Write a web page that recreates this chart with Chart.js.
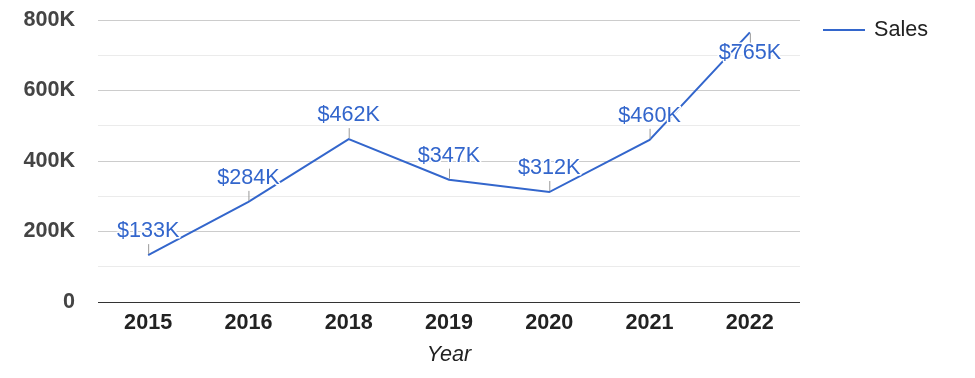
<!DOCTYPE html>
<html>
<head>
<meta charset="utf-8">
<script src="https://cdn.jsdelivr.net/npm/chart.js@4"></script>
<style>
  body { margin: 0; background: #fff; }
  canvas { display: block; }
</style>
</head>
<body>
<canvas id="salesChart" width="975" height="378"></canvas>
<script>
// donnees
const years = ['2015', '2016', '2018', '2019', '2020', '2021', '2022'];
const sales = [133000, 284000, 462000, 347000, 312000, 460000, 765000];
const seriesName = 'Sales';
const axisTitle = 'Year';

const FONT = '"Liberation Sans", Arial, sans-serif';
const BLUE = '#3366cc';

function fmtK(v) {
    return v === 0 ? '0' : (v / 1000) + 'K';
}

// etiquettes de valeur au-dessus des points (avec halo blanc)
const valueLabels = {
    id: 'valueLabels',
    afterDatasetsDraw(chart) {
        const ctx = chart.ctx;
        const meta = chart.getDatasetMeta(0);
        ctx.save();
        ctx.font = '21.6px ' + FONT;
        ctx.textAlign = 'center';
        ctx.textBaseline = 'middle';
        meta.data.forEach((pt, i) => {
            const x = pt.x, y = pt.y;
            const below = (y - 34) < 0;
            // petit trait gris
            ctx.strokeStyle = '#999';
            ctx.lineWidth = 1;
            ctx.beginPath();
            if (below) {
                ctx.moveTo(x + 0.5, y + 1);
                ctx.lineTo(x + 0.5, y + 11);
            } else {
                ctx.moveTo(x + 0.5, y - 1);
                ctx.lineTo(x + 0.5, y - 11);
            }
            ctx.stroke();
            const ty = below ? y + 21 : y - 24;
            const txt = '$' + Math.round(sales[i] / 1000) + 'K';
            ctx.strokeStyle = '#fff';
            ctx.lineWidth = 3;
            ctx.lineJoin = 'round';
            ctx.strokeText(txt, x, ty);
            ctx.fillStyle = BLUE;
            ctx.fillText(txt, x, ty);
        });
        ctx.restore();
    }
};

// legende a droite
const sideLegend = {
    id: 'sideLegend',
    afterDraw(chart) {
        const ctx = chart.ctx;
        ctx.save();
        ctx.strokeStyle = BLUE;
        ctx.lineWidth = 2;
        ctx.beginPath();
        ctx.moveTo(823, 30);
        ctx.lineTo(865, 30);
        ctx.stroke();
        ctx.fillStyle = '#222';
        ctx.font = '21.6px ' + FONT;
        ctx.textAlign = 'left';
        ctx.textBaseline = 'middle';
        ctx.fillText(seriesName, 874, 30);
        ctx.restore();
    }
};

const ctx = document.getElementById('salesChart').getContext('2d');
new Chart(ctx, {
    type: 'line',
    data: {
        labels: years,
        datasets: [{
            label: seriesName,
            data: sales,
            borderColor: BLUE,
            backgroundColor: BLUE,
            borderWidth: 2,
            pointRadius: 0,
            fill: false,
            tension: 0
        }]
    },
    options: {
        responsive: false,
        animation: false,
        layout: { padding: { top: 20, right: 175, left: 0, bottom: 0 } },
        plugins: {
            legend: { display: false },
            tooltip: { enabled: false }
        },
        scales: {
            x: {
                offset: true,
                grid: { display: false, drawTicks: false },
                border: { display: false },
                ticks: {
                    color: '#222',
                    padding: 8,
                    font: { family: FONT, size: 21.6, weight: 'bold' }
                },
                title: {
                    display: true,
                    text: axisTitle,
                    color: '#222',
                    padding: { top: 4, bottom: 10 },
                    font: { family: FONT, size: 21.6, style: 'italic' }
                },
                afterFit(scale) {
                    scale.height = 76;
                    scale.paddingLeft = 0;
                    scale.paddingRight = 0;
                }
            },
            y: {
                min: 0,
                max: 800000,
                grid: {
                    drawTicks: false,
                    color: c => c.tick.value === 0 ? '#333' : (c.tick.value % 200000 === 0 ? '#cccccc' : '#ebebeb')
                },
                border: { display: false },
                ticks: {
                    stepSize: 100000,
                    padding: 23,
                    color: '#444',
                    font: { family: FONT, size: 21.6, weight: 'bold' },
                    callback: v => v % 200000 === 0 ? fmtK(v) : ''
                },
                afterFit(scale) {
                    scale.width = 98;
                    scale.paddingTop = 0;
                    scale.paddingBottom = 0;
                }
            }
        }
    },
    plugins: [valueLabels, sideLegend]
});
</script>
</body>
</html>
